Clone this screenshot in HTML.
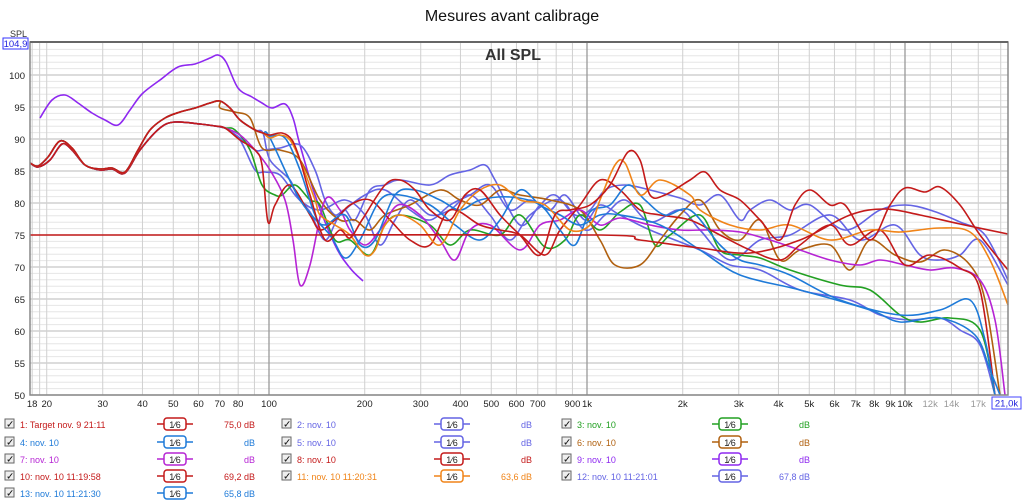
<!DOCTYPE html>
<html><head><meta charset="utf-8"><style>
body{margin:0;background:#fff;width:1024px;height:504px;overflow:hidden;font-family:"Liberation Sans",sans-serif}
svg{position:absolute;left:0;top:0}
</style></head><body>
<svg id="s" width="1024" height="504" xmlns="http://www.w3.org/2000/svg" font-family="Liberation Sans, sans-serif">
<text x="512" y="21" font-size="16" text-anchor="middle" fill="#111">Mesures avant calibrage</text>
<g id="grid"></g>
<text x="513" y="60" font-size="16" font-weight="bold" text-anchor="middle" fill="#333">All SPL</text>
<g id="curves" fill="none" stroke-width="1.6"></g>
<rect x="30" y="42" width="978" height="353" fill="none" stroke="#888" stroke-width="1.5"/>
<line x1="30" y1="42" x2="1008" y2="42" stroke="#666" stroke-width="2"/>
<text x="10" y="37" font-size="9" fill="#333">SPL</text>
<rect x="3" y="38" width="25" height="11" fill="#fff" stroke="#33f"/>
<text x="15.5" y="47" font-size="9.5" text-anchor="middle" fill="#22d">104,9</text>
<g id="labels" font-size="9.5" fill="#222"></g>
<g id="legend" font-size="9"></g>
</svg>
<script>
const NS="http://www.w3.org/2000/svg";
function el(t,a,p,txt){const e=document.createElementNS(NS,t);for(const k in a)e.setAttribute(k,a[k]);if(txt!==undefined)e.textContent=txt;p.appendChild(e);return e;}
const X=f=>269+318*Math.log10(f/100), Y=d=>395-(d-50)*6.4;
const g=document.getElementById('grid'),lab=document.getElementById('labels');
for(let d=50;d<=104;d++){const maj=d%5==0;el('line',{x1:30,x2:1008,y1:Y(d),y2:Y(d),stroke:maj?'#c8c8c8':'#e6e6e6','stroke-width':maj?1.2:1},g);
 if(maj)el('text',{x:25,y:Y(d)+4,'text-anchor':'end'},lab,d);}
const fs=[];for(const dec of [10,100,1000,10000])for(let m=1;m<10;m++){const f=m*dec;if(f>=18&&f<=21000)fs.push(f);}
fs.push(12000,14000,17000,18,19);
for(const f of fs){const maj=[100,1000,10000].includes(f);el('line',{x1:X(f),x2:X(f),y1:42,y2:395,stroke:maj?'#999':'#d0d0d0','stroke-width':maj?1.3:1},g);}
const tl=[[18,'18'],[20,'20'],[30,'30'],[40,'40'],[50,'50'],[60,'60'],[70,'70'],[80,'80'],[100,'100'],[200,'200'],[300,'300'],[400,'400'],[500,'500'],[600,'600'],[700,'700'],[900,'900'],[1000,'1k'],[2000,'2k'],[3000,'3k'],[4000,'4k'],[5000,'5k'],[6000,'6k'],[7000,'7k'],[8000,'8k'],[9000,'9k'],[10000,'10k'],[12000,'12k'],[14000,'14k'],[17000,'17k']];
for(const [f,t] of tl){el('text',{x:X(f),y:407,'text-anchor':'middle',fill:f>10000?'#999':'#222'},lab,t);}
el('rect',{x:992,y:397,width:29,height:12,fill:'#fff',stroke:'#44f'},lab);
el('text',{x:1006.5,y:406.5,'text-anchor':'middle',fill:'#22d'},lab,'21,0k');
function path(pts){let d='M'+pts[0];for(let i=0;i<pts.length-1;i++){const p0=pts[i-1]||pts[i],p1=pts[i],p2=pts[i+1],p3=pts[i+2]||p2;
 d+=` C${p1[0]+(p2[0]-p0[0])/6},${p1[1]+(p2[1]-p0[1])/6} ${p2[0]-(p3[0]-p1[0])/6},${p2[1]-(p3[1]-p1[1])/6} ${p2[0]},${p2[1]}`;}return d;}
const HI=[[30,163],[38,166],[48,157],[60,141],[72,148],[85,165],[100,169],[112,168],[125,172],[138,150],[150,130],[165,118],[180,112],[195,108],[210,103],[220,101],[230,108],[240,120],[255,130],[263,133]];
const LO=[[30,163],[38,167],[50,160],[62,144],[72,150],[85,165],[100,170],[112,169],[125,173],[140,150],[160,128],[175,122],[200,124],[215,126],[225,128]];
const C={red:'#c41a1a',blue:'#1e7ad8',pb:'#6464e4',green:'#22a022',brown:'#b0600f',mag:'#b624d4',vio:'#8e28f0',or:'#f08418'};
const S=[
[C.vio,[[40,118],[52,100],[65,95],[78,103],[92,113],[105,120],[118,125],[130,110],[142,94],[160,80],[178,67],[195,64],[210,58],[218,55],[226,62],[238,88],[252,97],[262,103],[272,108],[285,104],[293,118],[300,145],[315,195],[335,245],[350,268],[363,281]]],
[C.pb,LO.concat([[240,138],[255,150],[263,150],[280,148],[300,145],[315,170],[325,200],[335,215],[345,210],[355,220],[370,190],[385,185],[400,180],[430,185],[450,175],[470,170],[485,165],[495,180],[520,225],[540,205],[555,195],[575,215],[590,210],[605,190],[625,185],[650,190],[680,198],[700,205],[720,195],[740,220],[750,210],[770,200],[790,210],[810,205],[845,230],[880,210],[905,205],[930,210],[960,222],[985,235],[1008,280]])],
[C.pb,LO.concat([[240,140],[255,170],[265,172],[280,175],[295,195],[310,212],[325,240],[340,215],[365,195],[385,190],[410,210],[430,220],[450,205],[470,195],[490,185],[510,210],[530,200],[550,210],[565,195],[585,220],[600,205],[620,215],[650,230],[700,250],[730,265],[760,270],[800,290],[850,300],[880,315],[910,320],[940,318],[960,330],[980,345],[995,395]])],
[C.pb,HI.concat([[270,160],[290,180],[300,200],[320,210],[345,200],[365,215],[380,245],[395,220],[410,200],[430,215],[450,210],[470,195],[490,215],[510,240],[530,215],[560,200],[585,230],[605,215],[625,200],[650,222],[680,210],[700,230],[730,260],[760,240],[790,235],[830,215],[860,240],[895,225],[920,255],[940,260],[960,255],[980,240],[1008,285]])],
[C.green,LO.concat([[235,130],[250,150],[262,185],[275,195],[282,195],[295,185],[310,200],[320,205],[335,240],[350,240],[370,255],[385,225],[400,215],[430,225],[450,245],[470,230],[500,235],[520,215],[545,247],[565,240],[580,215],[600,230],[620,212],[640,205],[655,245],[670,235],[700,215],[720,250],[740,255],[760,258],[790,270],[840,285],[870,290],[900,315],[920,322],[950,318],[980,330],[995,395]])],
[C.brown,HI.slice(0,16).concat([[220,108],[235,112],[250,118],[262,148],[280,150],[300,160],[320,200],[340,220],[355,220],[370,230],[385,215],[410,205],[440,190],[460,200],[480,205],[500,190],[520,195],[550,200],[580,210],[600,240],[615,265],[640,265],[660,240],[680,215],[700,200],[720,230],[740,240],[760,220],[780,260],[800,250],[830,245],[850,270],[870,240],[895,255],[920,262],[945,250],[970,265],[985,300],[1000,395]])],
[C.mag,LO.concat([[240,135],[255,150],[270,170],[285,200],[293,240],[300,285],[310,265],[325,200],[340,210],[350,230],[365,245],[380,230],[398,205],[420,215],[440,240],[455,260],[470,230],[490,225],[520,250],[540,225],[560,220],[580,210],[600,225],[620,218],[650,225],[680,230],[710,230],[740,232],[770,240],[800,250],[830,260],[860,265],[880,260],[905,265],[930,270],[955,268],[980,280],[995,320],[1005,395]])],
[C.red,LO.concat([[240,140],[255,150],[262,165],[268,222],[275,205],[290,185],[310,215],[320,230],[335,220],[350,205],[370,200],[390,220],[410,240],[430,245],[450,210],[480,225],[500,230],[520,235],[545,255],[560,230],[580,205],[600,180],[620,190],[640,210],[660,215],[690,220],[720,235],[750,250],[780,260],[800,245],[830,225],[850,245],[880,230],[905,265],[930,255],[960,268],[980,290],[995,395]])],
[C.blue,HI.concat([[270,138],[300,200],[330,235],[345,258],[360,240],[380,200],[400,195],[430,205],[455,225],[480,240],[500,220],[520,190],[540,205],[560,215],[580,225],[600,215],[620,215],[660,225],[700,250],[740,275],[800,290],[870,310],[900,322],[940,318],[975,335],[990,370],[1000,395]])],
[C.blue,HI.concat([[270,136],[285,138],[300,170],[315,215],[325,225],[345,215],[360,245],[375,240],[395,195],[415,190],[440,200],[460,210],[480,200],[510,197],[540,205],[560,230],[575,245],[590,212],[610,205],[628,185],[645,200],[665,215],[690,210],[720,245],[740,260],[760,265],[790,275],[840,300],[900,315],[940,310],[970,300],[985,340],[995,395]])],
[C.or,HI.concat([[270,138],[280,135],[290,140],[300,160],[315,200],[320,215],[335,225],[350,235],[365,255],[375,250],[385,225],[400,215],[420,225],[440,245],[460,210],[480,190],[500,185],[520,200],[545,205],[570,230],[590,225],[600,200],[615,165],[625,163],[640,195],[660,180],[690,195],[700,210],[730,225],[760,230],[790,225],[830,240],[870,230],[900,232],[940,228],[970,232],[990,260],[1008,305]])],
[C.red,HI.concat([[270,135],[282,133],[292,140],[300,160],[310,195],[325,240],[340,230],[350,238],[362,220],[385,185],[400,180],[415,190],[430,210],[450,220],[465,195],[480,190],[500,215],[520,235],[540,255],[555,215],[570,210],[590,205],[610,185],[628,152],[640,160],[650,195],[665,195],[690,180],[705,172],[720,190],[740,200],[760,220],[780,240],[795,205],[810,190],[830,205],[845,205],[870,240],[890,205],[905,188],[925,192],[940,187],[960,205],[980,235],[1008,270]])],
[C.red,[[30,235],[300,235],[600,235],[640,240],[700,248],[750,253],[800,240],[850,215],[885,209],[920,215],[960,224],[1008,234]]]
];
const cg=document.getElementById('curves');
for(const [c,p] of S)el('path',{d:path(p),stroke:c},cg);
// legend
const lg=document.getElementById('legend');
const rows=[424,442,459,476,493], cols=[[5,175,255],[282,452,532],[562,730,810]];
const items=[
['1: Target nov. 9 21:11',C.red,'75,0 dB'],['2: nov. 10',C.pb,'dB'],['3: nov. 10',C.green,'dB'],
['4: nov. 10',C.blue,'dB'],['5: nov. 10',C.pb,'dB'],['6: nov. 10',C.brown,'dB'],
['7: nov. 10',C.mag,'dB'],['8: nov. 10',C.red,'dB'],['9: nov. 10',C.vio,'dB'],
['10: nov. 10 11:19:58',C.red,'69,2 dB'],['11: nov. 10 11:20:31',C.or,'63,6 dB'],['12: nov. 10 11:21:01',C.pb,'67,8 dB'],
['13: nov. 10 11:21:30',C.blue,'65,8 dB']];
items.forEach((it,i)=>{const r=rows[Math.floor(i/3)],[cx,bx,dx]=cols[i%3];
 el('rect',{x:cx,y:r-5,width:9,height:9,fill:'#eee',stroke:'#666'},lg);
 el('text',{x:cx+1,y:r+3.5,'font-size':10,fill:'#111'},lg,'✓');
 el('text',{x:cx+15,y:r+4,fill:it[1]},lg,it[0]);
 el('line',{x1:bx-18,x2:bx+18,y1:r,y2:r,stroke:it[1],'stroke-width':1.5},lg);
 el('rect',{x:bx-11,y:r-6,width:22,height:12,rx:3,fill:'#fff',stroke:it[1],'stroke-width':1.5},lg);
 el('text',{x:bx,y:r+4,'text-anchor':'middle',fill:'#222'},lg,'1⁄6');
 el('text',{x:dx,y:r+4,'text-anchor':'end',fill:it[1]},lg,it[2]);
});
</script>
</body></html>
